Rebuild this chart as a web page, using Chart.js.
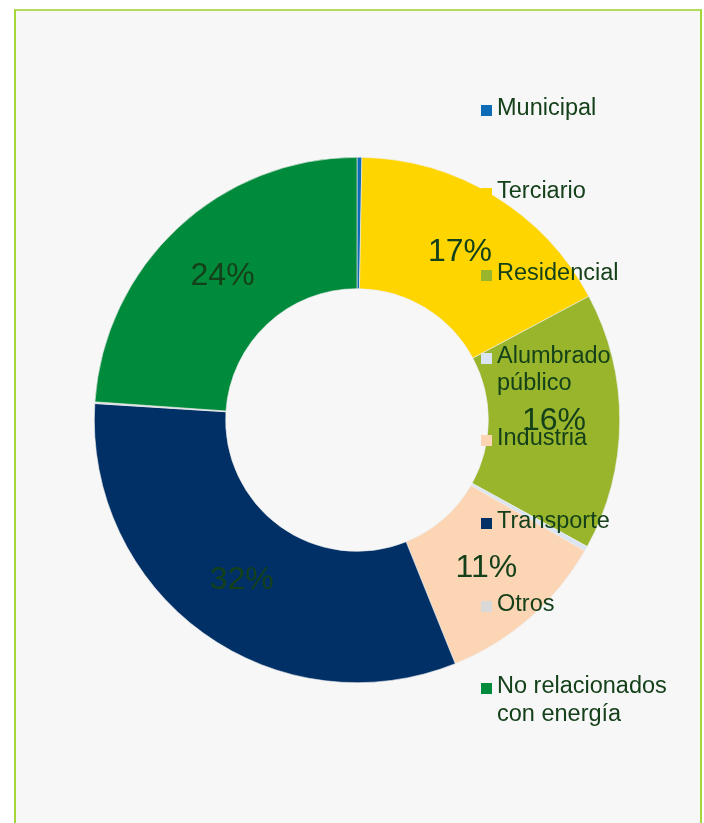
<!DOCTYPE html>
<html>
<head>
<meta charset="utf-8">
<script src="https://cdn.jsdelivr.net/npm/chart.js@4"></script>
<style>
  html, body { margin:0; padding:0; background:#fff; width:704px; height:823px; overflow:hidden; }
  #frame { position:absolute; left:14px; top:9px; width:684px; height:840px; background:#f7f7f7;
           border-left:2px solid #a4d63a; border-top:2px solid #b2dd5c; border-right:2px solid #a4d63a; }
  #cv { position:absolute; left:0; top:0; }
  #legend { position:absolute; left:0; top:0; font-family:"Liberation Sans", Arial, sans-serif;
            font-size:23.5px; color:#14401a; }
  .lg-item { position:absolute; left:481px; width:210px; }
  .lg-box { position:absolute; left:0; width:11px; height:11px; }
  .lg-text { position:absolute; left:16px; width:182px; line-height:27.5px; }
</style>
</head>
<body>
<div id="frame"></div>
<canvas id="cv" width="704" height="823"></canvas>
<div id="legend"></div>
<script>
// data (% of total)
const categories = ['Municipal', 'Terciario', 'Residencial', 'Alumbrado público', 'Industria', 'Transporte', 'Otros', 'No relacionados con energía'];
const values = [0.3, 16.9, 15.8, 0.3, 10.6, 32.1, 0.1, 23.9];
const colors = ['#0e6bb5', '#ffd500', '#98b52b', '#dbe5f1', '#fcd5b5', '#003066', '#d9d9d9', '#008a3b'];

const textColor = '#14401a';
const total = values.reduce((a, b) => a + b, 0);

// percent labels at the centre of each ring segment
const pctLabels = {
    id: 'pctLabels',
    afterDatasetsDraw: (chart) => {
        const ctx = chart.ctx;
        const meta = chart.getDatasetMeta(0);
        ctx.save();
        ctx.font = '32px "Liberation Sans", Arial, sans-serif';
        ctx.fillStyle = textColor;
        ctx.textAlign = 'center';
        ctx.textBaseline = 'middle';
        meta.data.forEach((arc, i) => {
            const pct = Math.round(values[i] / total * 100);
            if (pct < 5) return;
            const p = arc.getCenterPoint();
            ctx.fillText(pct + '%', p.x, p.y);
        });
        ctx.restore();
    }
};

new Chart(document.getElementById('cv'), {
    type: 'doughnut',
    data: {
        labels: categories,
        datasets: [{
            data: values,
            backgroundColor: colors,
            borderColor: '#eeeeee',
            borderWidth: 0.6,
            hoverOffset: 0,
            offset: 0
        }]
    },
    options: {
        responsive: false,
        animation: false,
        cutout: '50%',
        layout: { padding: { left: 94, right: 84, top: 157, bottom: 140 } },
        plugins: { legend: { display: false }, tooltip: { enabled: false } }
    },
    plugins: [pctLabels]
});

// legend on the right, fixed slot per entry
const legend = document.getElementById('legend');
categories.forEach((c, i) => {
    const top = 94 + i * 82.6;
    const item = document.createElement('div');
    item.className = 'lg-item';
    item.style.top = top + 'px';
    item.innerHTML = `<div class="lg-box" style="top:11px;background:${colors[i]}"></div><div class="lg-text">${c}</div>`;
    legend.appendChild(item);
});
</script>
</body>
</html>
